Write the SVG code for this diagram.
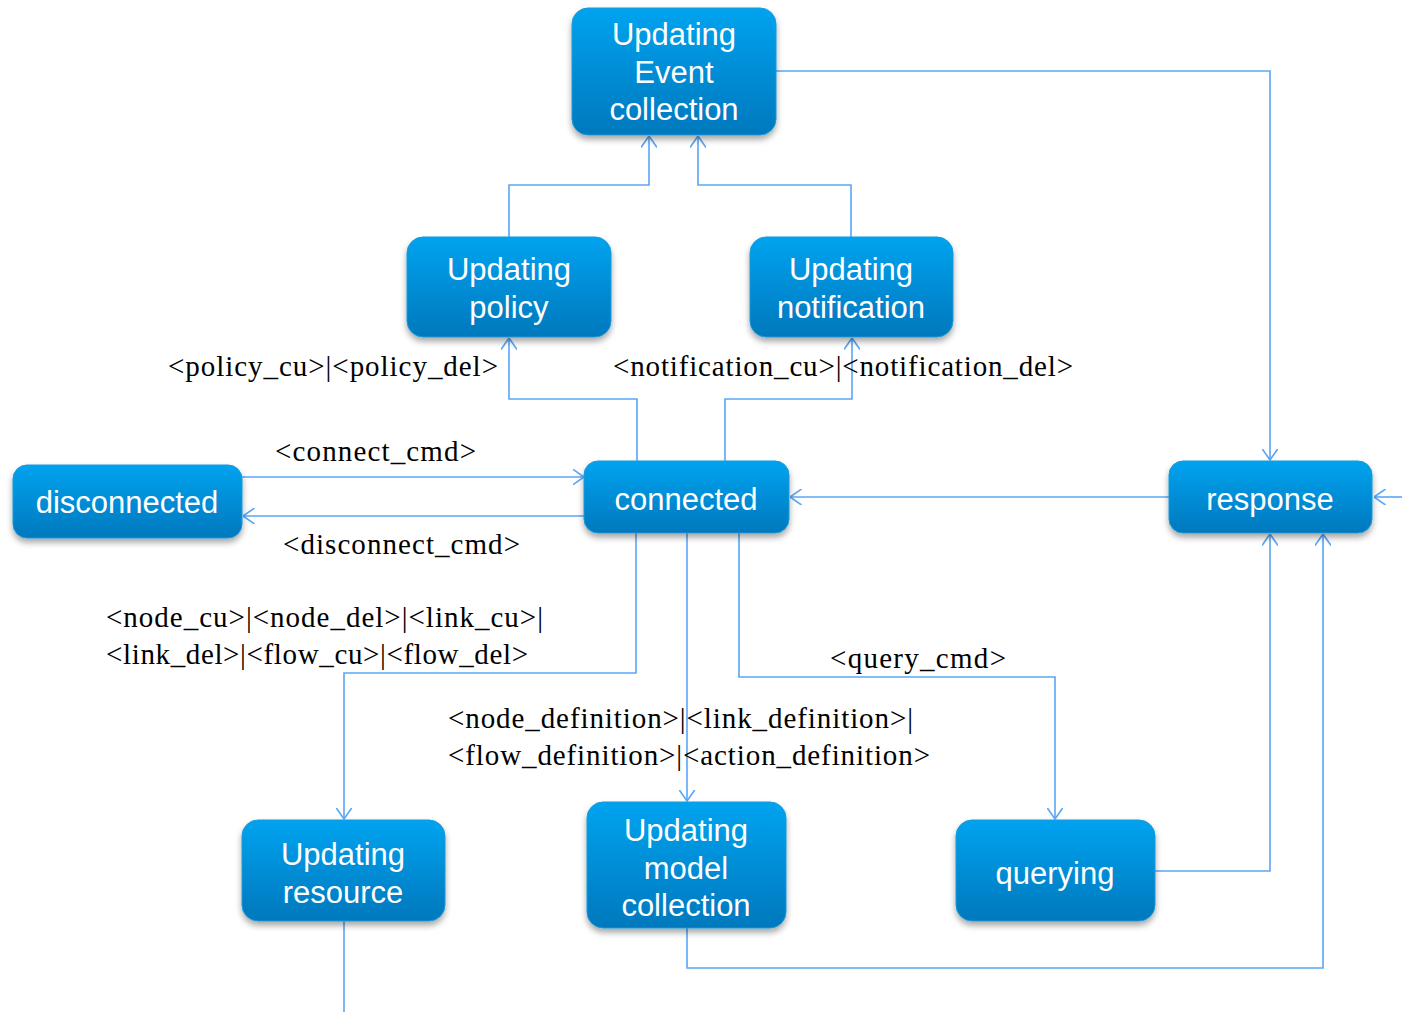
<svg xmlns="http://www.w3.org/2000/svg" width="1402" height="1012" viewBox="0 0 1402 1012">
  <style>
    .node rect { fill: url(#nodeFill); stroke: #1a9ad8; stroke-width: 1; filter: url(#shadow); }
    .node text { font-family: "Liberation Sans", Arial, sans-serif; font-size: 31px; fill: #ffffff; text-anchor: middle; }
    .edge { fill: none; stroke: #5aa6f7; stroke-width: 1.6; }
    .lbl { font-family: "Liberation Serif", "Times New Roman", serif; font-size: 29px; fill: #000000; }
  </style>
  <defs>
    <linearGradient id="nodeFill" x1="0" y1="0" x2="0" y2="1">
      <stop offset="0" stop-color="#02a3ef"/>
      <stop offset="1" stop-color="#0078bd"/>
    </linearGradient>
    <filter id="shadow" x="-10%" y="-10%" width="120%" height="140%">
      <feDropShadow dx="0" dy="4" stdDeviation="3" flood-color="#000000" flood-opacity="0.35"/>
    </filter>
    <marker id="arrow" viewBox="0 0 12 16" refX="11.5" refY="8" markerWidth="12" markerHeight="16" markerUnits="userSpaceOnUse" orient="auto">
      <path d="M0,0 L11.5,8 L0,16" fill="none" stroke="#5aa6f7" stroke-width="1.6"/>
    </marker>
  </defs>
  <rect width="1402" height="1012" fill="#ffffff"/>

  <!-- connectors -->
  <g id="connectors">
    <path class="edge" d="M509,237 V185 H649 V136" marker-end="url(#arrow)"/>
    <path class="edge" d="M851,237 V185 H698 V136" marker-end="url(#arrow)"/>
    <path class="edge" d="M776,71 H1270 V460" marker-end="url(#arrow)"/>
    <path class="edge" d="M637,461 V399 H509 V338" marker-end="url(#arrow)"/>
    <path class="edge" d="M725,461 V399 H852 V338" marker-end="url(#arrow)"/>
    <path class="edge" d="M242,477 H584" marker-end="url(#arrow)"/>
    <path class="edge" d="M584,516 H243" marker-end="url(#arrow)"/>
    <path class="edge" d="M1169,497 H790" marker-end="url(#arrow)"/>
    <path class="edge" d="M1402,497 H1374" marker-end="url(#arrow)"/>
    <path class="edge" d="M636,533 V673 H344 V819" marker-end="url(#arrow)"/>
    <path class="edge" d="M687,533 V801" marker-end="url(#arrow)"/>
    <path class="edge" d="M739,533 V677 H1055 V819" marker-end="url(#arrow)"/>
    <path class="edge" d="M1155,871 H1270 V534" marker-end="url(#arrow)"/>
    <path class="edge" d="M687,928 V968 H1323 V534" marker-end="url(#arrow)"/>
    <path class="edge" d="M344,921 V1012"/>
  </g>

  <!-- connector labels -->
  <g id="labels">
    <text class="lbl" x="168" y="376" textLength="330" lengthAdjust="spacing">&lt;policy_cu&gt;|&lt;policy_del&gt;</text>
    <text class="lbl" x="613" y="376" textLength="460" lengthAdjust="spacing">&lt;notification_cu&gt;|&lt;notification_del&gt;</text>
    <text class="lbl" x="275" y="461" textLength="201" lengthAdjust="spacing">&lt;connect_cmd&gt;</text>
    <text class="lbl" x="283" y="554" textLength="237" lengthAdjust="spacing">&lt;disconnect_cmd&gt;</text>
    <text class="lbl" x="106" y="627" textLength="437" lengthAdjust="spacing">&lt;node_cu&gt;|&lt;node_del&gt;|&lt;link_cu&gt;|</text>
    <text class="lbl" x="106" y="664" textLength="422" lengthAdjust="spacing">&lt;link_del&gt;|&lt;flow_cu&gt;|&lt;flow_del&gt;</text>
    <text class="lbl" x="830" y="668" textLength="176" lengthAdjust="spacing">&lt;query_cmd&gt;</text>
    <text class="lbl" x="448" y="728" textLength="465" lengthAdjust="spacing">&lt;node_definition&gt;|&lt;link_definition&gt;|</text>
    <text class="lbl" x="448" y="765" textLength="482" lengthAdjust="spacing">&lt;flow_definition&gt;|&lt;action_definition&gt;</text>
  </g>

  <!-- nodes -->
  <g id="event-collection" class="node">
    <rect x="572" y="8" width="204" height="127" rx="16"/>
    <text x="674" y="45">Updating</text>
    <text x="674" y="83">Event</text>
    <text x="674" y="120">collection</text>
  </g>
  <g id="updating-policy" class="node">
    <rect x="407" y="237" width="204" height="100" rx="16"/>
    <text x="509" y="280">Updating</text>
    <text x="509" y="318">policy</text>
  </g>
  <g id="updating-notification" class="node">
    <rect x="750" y="237" width="203" height="100" rx="16"/>
    <text x="851" y="280">Updating</text>
    <text x="851" y="318">notification</text>
  </g>
  <g id="disconnected" class="node">
    <rect x="13" y="465" width="229" height="73" rx="14"/>
    <text x="127" y="513">disconnected</text>
  </g>
  <g id="connected" class="node">
    <rect x="584" y="461" width="205" height="72" rx="14"/>
    <text x="686" y="510">connected</text>
  </g>
  <g id="response" class="node">
    <rect x="1169" y="461" width="203" height="72" rx="14"/>
    <text x="1270" y="510">response</text>
  </g>
  <g id="updating-resource" class="node">
    <rect x="242" y="820" width="203" height="101" rx="16"/>
    <text x="343" y="865">Updating</text>
    <text x="343" y="903">resource</text>
  </g>
  <g id="model-collection" class="node">
    <rect x="587" y="802" width="199" height="126" rx="16"/>
    <text x="686" y="841">Updating</text>
    <text x="686" y="879">model</text>
    <text x="686" y="916">collection</text>
  </g>
  <g id="querying" class="node">
    <rect x="956" y="820" width="199" height="101" rx="16"/>
    <text x="1055" y="884">querying</text>
  </g>
</svg>
